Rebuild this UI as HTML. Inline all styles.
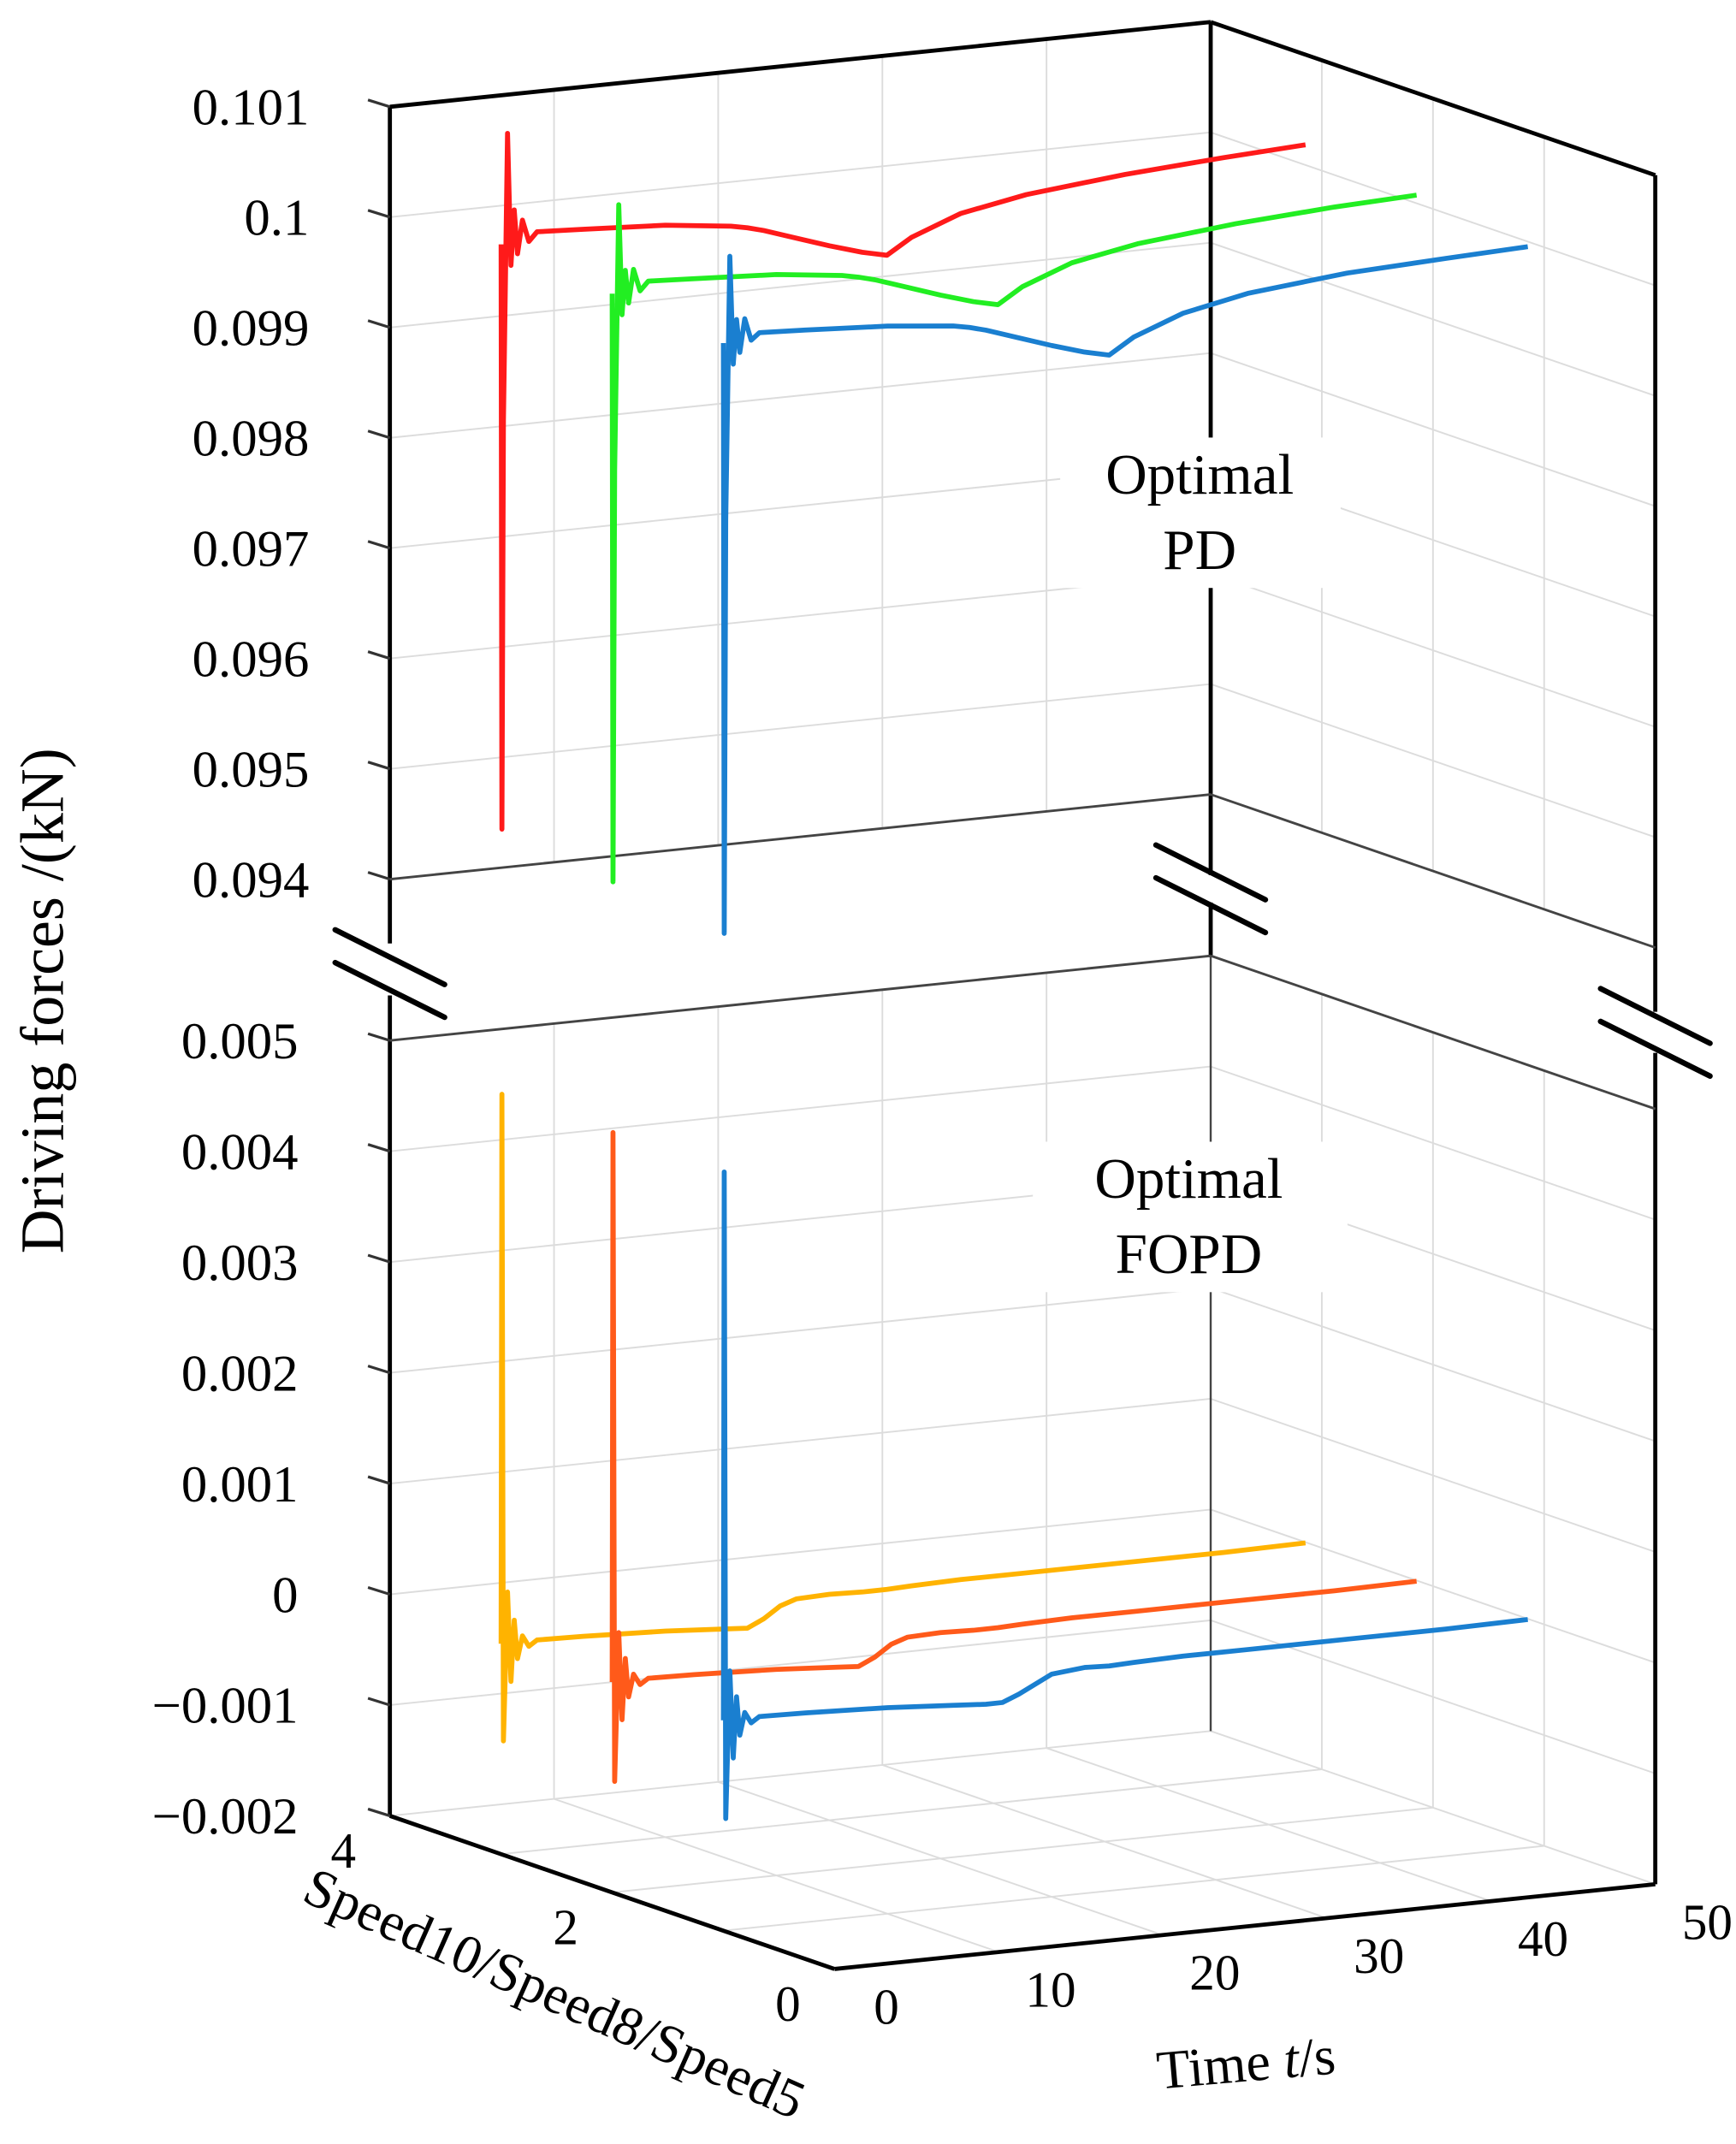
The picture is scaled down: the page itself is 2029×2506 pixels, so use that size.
<!DOCTYPE html>
<html><head><meta charset="utf-8"><style>
html,body{margin:0;padding:0;background:#fff;}
svg{display:block;}
text{font-family:"Liberation Serif",serif;fill:#000;}
</style></head><body>
<svg id="chart" width="2029" height="2506" viewBox="0 0 1269 1568" preserveAspectRatio="none" xmlns="http://www.w3.org/2000/svg">
<g id="grid"></g><g id="frame"></g><g id="series"></g><g id="labels"></g>
</svg>
<script>
// ---- data ----
const times = [0,0.05,0.15,0.4,0.6,0.8,1.0,1.3,1.7,2.2,5,10,14,15,16,17,18,20,22,23.5,25,28,32,38,44,49];
const upperTicks = [0.094,0.095,0.096,0.097,0.098,0.099,0.1,0.101];
const upperTickLabels = ["0.094","0.095","0.096","0.097","0.098","0.099","0.1","0.101"];
const lowerTicks = [-0.002,-0.001,0,0.001,0.002,0.003,0.004,0.005];
const lowerTickLabels = ["\u22120.002","\u22120.001","0","0.001","0.002","0.003","0.004","0.005"];
const timeTicks = [0,10,20,30,40,50];
const speedTicks = [0,2,4];
const pdRed   = [0.1001,0.0948,0.0985,0.1011,0.0999,0.1004,0.1000,0.1003,0.1001,0.10018,0.10016,0.10012,0.10005,0.10002,0.09998,0.09993,0.09988,0.09978,0.09969,0.09964,0.09978,0.09995,0.10006,0.10015,0.10021,0.10025];
const pdGreen = [0.1000,0.09467,0.0984,0.1008,0.0998,0.1002,0.0999,0.1002,0.1000,0.10008,0.10006,0.10002,0.09995,0.09992,0.09988,0.09983,0.09978,0.09968,0.09959,0.09954,0.09968,0.09985,0.09996,0.10005,0.10011,0.10014];
const pdBlue  = [0.0999,0.09455,0.0983,0.10068,0.0997,0.1001,0.0998,0.1001,0.0999,0.09996,0.09994,0.0999,0.09984,0.09981,0.09977,0.09972,0.09967,0.09957,0.09948,0.09943,0.09957,0.09974,0.09986,0.09995,0.09999,0.10002];
const fopdYellow = [-0.0001,0.00486,-0.00098,0.00036,-0.00045,0.0001,-0.00025,-0.00005,-0.00015,-0.0001,-0.00011,-0.00014,-0.00018,-0.00019,-0.00012,-0.00002,0.00003,0.00004,0.00003,0.00003,0.00004,0.00005,0.00005,0.00005,0.00005,0.00006];
const fopdOrange = [-0.0001,0.00486,-0.001,0.00034,-0.00045,0.0001,-0.00025,-0.00005,-0.00015,-0.0001,-0.00011,-0.00014,-0.00018,-0.00019,-0.00012,-0.00002,0.00003,0.00004,0.00003,0.00003,0.00004,0.00005,0.00005,0.00005,0.00005,0.00006];
const fopdBlue   = [-0.0001,0.00485,-0.00099,0.00034,-0.00045,0.0001,-0.00025,-0.00005,-0.00015,-0.0001,-0.00011,-0.00014,-0.00018,-0.00019,-0.0002,-0.0002,-0.00014,0.00001,0.00004,0.00003,0.00004,0.00005,0.00005,0.00005,0.00005,0.00006];

// ---- projection ----
const O={x:610,y:1440}; const TX=12.0, TY=-1.24, SX=-81.25, SY=-28;
function base(t,s){return {x:O.x+TX*t+SX*s, y:O.y+TY*t+SY*s};}
function pLow(t,s,v){const b=base(t,s);return {x:b.x,y:b.y-(v+0.002)*81000};}
function pUp(t,s,v){const b=base(t,s);return {x:b.x,y:b.y-685-(v-0.094)*80700};}
const NS="http://www.w3.org/2000/svg";
function el(tag,attrs,parent){const e=document.createElementNS(NS,tag);for(const k in attrs)e.setAttribute(k,attrs[k]);document.getElementById(parent).appendChild(e);return e;}
function line(a,b,stroke,w,parent){return el('line',{x1:a.x,y1:a.y,x2:b.x,y2:b.y,stroke:stroke,'stroke-width':w},parent);}

// ---- grid ----
const G='#dcdcdc';
[[upperTicks,pUp],[lowerTicks,pLow]].forEach(([ticks,P])=>{
  ticks.forEach(v=>{
    let g=line(P(0,4,v),P(50,4,v),G,1.2,'grid');
    
    
    g=line(P(50,4,v),P(50,0,v),G,1.2,'grid');
    
    
  });
  [10,20,30,40].forEach(t=>{
    const g=line(P(t,4,ticks[0]),P(t,4,ticks[ticks.length-1]),G,1.2,'grid');
    
    
  });
  [1,2,3].forEach(s=>{
    const g=line(P(50,s,ticks[0]),P(50,s,ticks[ticks.length-1]),G,1.2,'grid');
    
    
  });
});
[10,20,30,40].forEach(t=>{const g=line(base(t,0),base(t,4),G,1.2,'grid');});
[1,2,3].forEach(s=>{const g=line(base(0,s),base(50,s),G,1.2,'grid');});

// ---- frame ----
function fr(a,b,c,w,name){const l=line(a,b,c,w,'frame');}
const LX=base(0,4).x, BX=base(50,4).x, RX=base(50,0).x;
fr(pUp(0,4,0.101),pUp(50,4,0.101),'#000',3,'top-edge-back');
fr(pUp(50,4,0.101),pUp(50,0,0.101),'#000',3,'top-edge-side');
fr(pUp(0,4,0.101),{x:LX,y:690},'#000',3,'left-axis-upper');
fr({x:LX,y:728},pLow(0,4,-0.002),'#000',3,'left-axis-lower');
fr(pUp(50,4,0.101),{x:BX,y:640},'#000',3,'back-edge-upper');
fr({x:BX,y:660},{x:BX,y:700},'#000',3,'back-edge-mid');
fr({x:BX,y:700},base(50,4),'#444',1.5,'back-edge-lower');
fr(pUp(50,0,0.101),{x:RX,y:740},'#000',3,'right-edge-upper');
fr({x:RX,y:770},base(50,0),'#000',3,'right-edge-lower');
fr(pUp(0,4,0.094),pUp(50,4,0.094),'#444',1.8,'upper-floor-back');
fr(pUp(50,4,0.094),pUp(50,0,0.094),'#444',1.8,'upper-floor-side');
fr(pLow(0,4,0.005),pLow(50,4,0.005),'#444',1.8,'lower-top-back');
fr(pLow(50,4,0.005),pLow(50,0,0.005),'#444',1.8,'lower-top-side');
fr(base(0,4),base(0,0),'#000',3,'speed-axis');
fr(base(0,0),base(50,0),'#000',3,'time-axis');
// break marks
[[LX,712],[BX,650],[RX,755]].forEach(([x,y])=>{
  [-12,12].forEach(d=>{const l=el('line',{x1:x-40,y1:y+d-20,x2:x+40,y2:y+d+20,stroke:'#000','stroke-width':4,'stroke-linecap':'round'},'frame');
  });
});

// ---- ticks & labels ----
function txt(x,y,s,size,anchor,name,rot){const t=el('text',{x:x,y:y,'font-size':size,'text-anchor':anchor||'start'},'labels');t.textContent=s;if(rot)t.setAttribute('transform',`rotate(${rot} ${x} ${y})`);return t;}
upperTicks.forEach((v,i)=>{const p=pUp(0,4,v);const l=line({x:p.x-16,y:p.y-5},p,'#333',2,'labels');txt(226,p.y+13,upperTickLabels[i],38,'end','y-tick-label');});
lowerTicks.forEach((v,i)=>{const p=pLow(0,4,v);const l=line({x:p.x-16,y:p.y-5},p,'#333',2,'labels');txt(218,p.y+13,lowerTickLabels[i],38,'end','y-tick-label');});
timeTicks.forEach(t=>{const b=base(t,0);txt(b.x+38,b.y+40,String(t),37,'middle','time-tick-label');});
speedTicks.forEach(s=>{const b=base(0,s);txt(b.x-34,b.y+38,String(s),37,'middle','speed-tick-label');});
const yt=txt(46,732,'Driving forces  /(kN)',45,'middle','y-axis-title',-90);
yt.setAttribute('xml:space','preserve');
txt(400,1470,'Speed10/Speed8/Speed5',40,'middle','speed-axis-title',24);
const tt=el('text',{x:912,y:1522,'font-size':40,'text-anchor':'middle',transform:'rotate(-5 912 1522)'},'labels');
tt.innerHTML='Time <tspan font-style="italic">t</tspan>/s';

[[775,320,205,110],[755,835,230,110]].forEach(r=>{const b=el('rect',{x:r[0],y:r[1],width:r[2],height:r[3],fill:'#fff'},'labels');});
txt(877,361,'Optimal',42,'middle','pd-annotation');
txt(877,416,'PD',42,'middle','pd-annotation');
txt(869,876,'Optimal',42,'middle','fopd-annotation');
txt(869,931,'FOPD',42,'middle','fopd-annotation');

// ---- series ----
function draw(vals,s,P,color,name){
  const d=vals.map((v,i)=>{const p=P(times[i],s,v);return (i?'L':'M')+p.x.toFixed(1)+' '+p.y.toFixed(1);}).join(' ');
  const pth=el('path',{d:d,fill:'none',stroke:color,'stroke-width':3.6,'stroke-linejoin':'round'},'series');
  
  
}
draw(pdRed,3,pUp,'#ff1a1a','pd-speed10-line');
draw(pdGreen,2,pUp,'#22ee22','pd-speed8-line');
draw(pdBlue,1,pUp,'#1a7fd0','pd-speed5-line');
draw(fopdYellow,3,pLow,'#ffb300','fopd-speed10-line');
draw(fopdOrange,2,pLow,'#ff5a1a','fopd-speed8-line');
draw(fopdBlue,1,pLow,'#1a7fd0','fopd-speed5-line');
</script>
</body></html>
